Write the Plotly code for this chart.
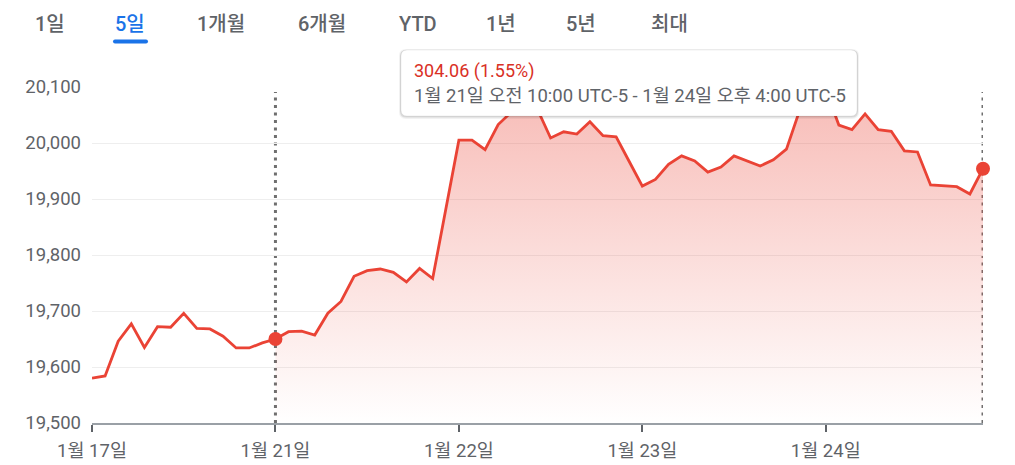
import plotly.graph_objects as go

# ---------------- data ----------------
day_labels = ["1월 17일", "1월 21일", "1월 22일", "1월 23일", "1월 24일"]
day_tick_index = [0, 14, 28, 42, 56]
values = [
    19580, 19584, 19646, 19677, 19635, 19672, 19671, 19696, 19669, 19668, 19655, 19634, 19634, 19643,
    19650, 19663, 19664, 19657, 19696, 19717, 19762, 19772, 19775, 19769, 19752, 19776, 19758, 19882,
    20005, 20005, 19988, 20033, 20055, 20066, 20060, 20009, 20020, 20016, 20038, 20013, 20011, 19967,
    19923, 19935, 19962, 19977, 19968, 19948, 19957, 19977, 19968, 19959, 19970, 19989, 20058, 20075,
    20095, 20032, 20024, 20052, 20024, 20021, 19986, 19984, 19925, 19924, 19922, 19909, 19954.06,
]
x_index = list(range(len(values)))
sel_start = 14
sel_end = len(values) - 1
y_ticks = [19500, 19600, 19700, 19800, 19900, 20000, 20100]
tabs = ["1일", "5일", "1개월", "6개월", "YTD", "1년", "5년", "최대"]
active_tab = "5일"
change_text = "304.06 (1.55%)"
range_text = "1월 21일 오전 10:00 UTC-5 - 1월 24일 오후 4:00 UTC-5"

# ---------------- style ----------------
RED = "#ea4335"
GRAY_TXT = "#5f6368"
FONT = "Roboto, Noto Sans CJK KR, sans-serif"
OFF = 8  # page body margin of the html page
W, H = 1015 - OFF, 465 - OFF
# plot area in page pixels: x 92..983, y 87..423
L, T = 92 - OFF, 87 - OFF
R = W - (983 - OFF)
B = H - (423 - OFF)
PW, PH = W - L - R, H - T - B


def px(xp):  # page pixel -> paper
    return (xp - OFF - L) / PW


def py(yp):
    return (H - B - (yp - OFF)) / PH


def rrect(x0, y0, x1, y1, r):
    rx, ry = r / PW, r / PH
    X0, X1 = px(x0), px(x1)
    Y0, Y1 = py(y0), py(y1)
    return (f"M {X0+rx},{Y0} L {X1-rx},{Y0} Q {X1},{Y0} {X1},{Y0-ry} "
            f"L {X1},{Y1+ry} Q {X1},{Y1} {X1-rx},{Y1} L {X0+rx},{Y1} "
            f"Q {X0},{Y1} {X0},{Y1+ry} L {X0},{Y0-ry} Q {X0},{Y0} {X0+rx},{Y0} Z")


fig = go.Figure()

fig.add_trace(go.Scatter(
    x=x_index[sel_start:], y=values[sel_start:], mode="lines",
    line=dict(width=0, color=RED), fill="tozeroy",
    fillgradient=dict(type="vertical",
                      colorscale=[[0, "rgba(234,67,53,0.0)"], [1, "rgba(234,67,53,0.35)"]],
                      start=19500, stop=20080),
    hoverinfo="skip", showlegend=False,
))
fig.add_trace(go.Scatter(
    x=x_index, y=values, mode="lines",
    line=dict(width=2.8, color=RED), hoverinfo="skip", showlegend=False,
))
fig.add_trace(go.Scatter(
    x=[x_index[sel_start], x_index[sel_end]], y=[values[sel_start], values[sel_end]],
    mode="markers", marker=dict(size=14, color=RED), cliponaxis=False,
    hoverinfo="skip", showlegend=False,
))

shapes = []
for xi in (x_index[sel_start], x_index[sel_end]):
    shapes.append(dict(type="line", xref="x", yref="paper", x0=xi, x1=xi, y0=0, y1=py(92),
                       line=dict(color="#6f6f6f", width=3, dash="3px,4.5px"), layer="below"))

shapes.append(dict(type="path", xref="paper", yref="paper", path=rrect(399, 49, 859, 119, 7),
                   fillcolor="rgba(0,0,0,0.05)", line=dict(width=0), layer="above"))
shapes.append(dict(type="path", xref="paper", yref="paper", path=rrect(400, 50, 858, 117.5, 6),
                   fillcolor="rgba(0,0,0,0.10)", line=dict(width=0), layer="above"))
shapes.append(dict(type="path", xref="paper", yref="paper", path=rrect(401, 50, 857, 116, 6),
                   fillcolor="white", line=dict(width=1, color="rgba(0,0,0,0.06)"), layer="above"))

shapes.append(dict(type="path", xref="paper", yref="paper", path=rrect(113, 39.5, 148, 43.5, 2),
                   fillcolor="#1a73e8", line=dict(width=0), layer="above"))

annotations = []
tab_centers = [50, 130, 221, 322, 418, 501, 581, 669]
for t, cx in zip(tabs, tab_centers):
    annotations.append(dict(
        text=t, x=px(cx), y=py(24), xref="paper", yref="paper", xanchor="center", yanchor="middle",
        showarrow=False,
        font=dict(family=FONT, size=20, weight=500,
                  color="#1a73e8" if t == active_tab else "#5f6368"),
    ))
annotations.append(dict(text=change_text, x=px(412), y=py(71), xref="paper", yref="paper",
                        xanchor="left", yanchor="middle", showarrow=False,
                        font=dict(family=FONT, size=18, color="#d93025")))
annotations.append(dict(text=range_text, x=px(412), y=py(96), xref="paper", yref="paper",
                        xanchor="left", yanchor="middle", showarrow=False,
                        font=dict(family=FONT, size=18.5, color=GRAY_TXT)))

fig.update_layout(
    width=W, height=H,
    margin=dict(l=L, r=R, t=T, b=B, autoexpand=False),
    paper_bgcolor="white", plot_bgcolor="white",
    shapes=shapes, annotations=annotations,
    font=dict(family=FONT, color=GRAY_TXT),
    xaxis=dict(
        range=[0, len(values) - 1], tickvals=day_tick_index, ticktext=day_labels,
        showgrid=False, zeroline=False, showline=True, linecolor="#9aa0a6", linewidth=1.5,
        ticks="outside", ticklen=7, tickwidth=2, tickcolor="#5f6368", automargin=False,
        ticklabelstandoff=3,
        tickfont=dict(family=FONT, size=18.5, color=GRAY_TXT), fixedrange=True,
    ),
    yaxis=dict(
        range=[19500, 20100], tickvals=y_ticks, tickformat=",",
        showgrid=True, gridcolor="#eeeeee", gridwidth=1, zeroline=False, showline=False,
        ticks="", ticklabelstandoff=10, automargin=False,
        tickfont=dict(family=FONT, size=18.5, color=GRAY_TXT), fixedrange=True,
    ),
)

fig.write_html("out.html")
